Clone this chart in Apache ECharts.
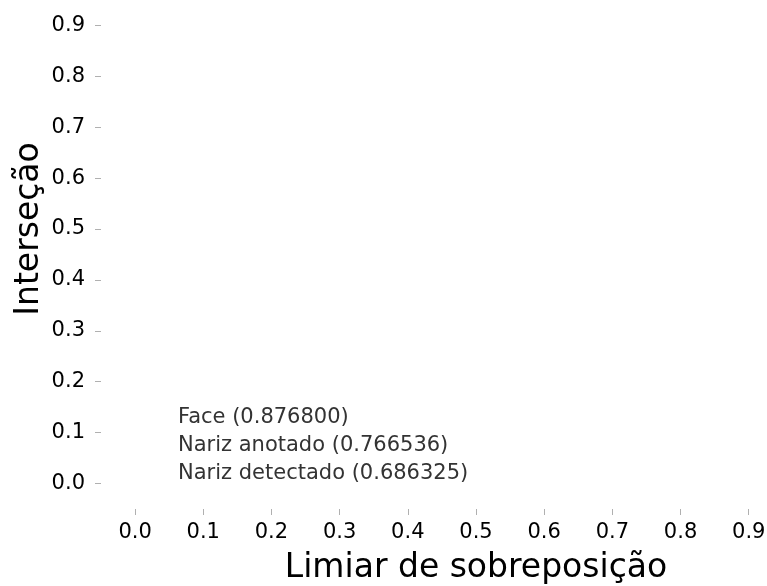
<!DOCTYPE html>
<html>
<head>
<meta charset="utf-8">
<script src="https://cdn.jsdelivr.net/npm/echarts@6/dist/echarts.min.js"></script>
<style>
  html, body { margin: 0; padding: 0; background: #ffffff; }
  #chart { width: 767px; height: 586px; }
</style>
</head>
<body>
<div id="chart"></div>
<script>
// Curves of intersection versus overlap threshold, one per detector
var seriesNames = ['Face', 'Nariz anotado', 'Nariz detectado'];
var seriesScores = [0.876800, 0.766536, 0.686325];
var faceValues = [];
var narizAnotadoValues = [];
var narizDetectadoValues = [];
var xTicks = [0, 0.1, 0.2, 0.3, 0.4, 0.5, 0.6, 0.7, 0.8, 0.9];
var yTicks = [0, 0.1, 0.2, 0.3, 0.4, 0.5, 0.6, 0.7, 0.8, 0.9];
var axisMin = -0.05;
var axisMax = 1.05;

var seriesData = [faceValues, narizAnotadoValues, narizDetectadoValues];
var font = 'DejaVu Sans';

var chart = echarts.init(document.getElementById('chart'), null, { renderer: 'canvas' });

var series = seriesNames.map(function (n, i) {
  return {
    type: 'line',
    name: n + ' (' + seriesScores[i].toFixed(6) + ')',
    data: seriesData[i],
    showSymbol: false,
    lineStyle: { width: 2 }
  };
});

function axisCommon(name) {
  return {
    type: 'value',
    min: axisMin,
    max: axisMax,
    name: name,
    nameLocation: 'middle',
    nameMoveOverlap: false,
    nameTextStyle: { fontFamily: font, fontSize: 33, color: '#000' },
    axisLine: { show: false, onZero: false },
    splitLine: { show: false },
    axisTick: { show: true, length: 6, lineStyle: { color: '#b0b0b0', width: 1 } },
    axisLabel: {
      fontFamily: font, fontSize: 21, color: '#000',
      formatter: function (v) { return v.toFixed(1); }
    }
  };
}

var xAxis = axisCommon('Limiar de sobreposição');
xAxis.nameGap = 43;
xAxis.axisTick.customValues = xTicks;
xAxis.axisLabel.customValues = xTicks;
xAxis.axisLabel.margin = 13;

var yAxis = axisCommon('Interseção');
yAxis.nameGap = 55;
yAxis.nameRotate = 90;
yAxis.axisTick.customValues = yTicks;
yAxis.axisLabel.customValues = yTicks;
yAxis.axisLabel.margin = 16;

chart.setOption({
  animation: false,
  backgroundColor: '#ffffff',
  color: ['#4c72b0', '#55a868', '#c44e52'],
  grid: {
    left: 101,
    top: -51,
    width: 750,
    height: 560,
    containLabel: false,
    outerBoundsMode: 'none'
  },
  legend: {
    orient: 'vertical',
    left: 138,
    top: 402,
    itemWidth: 30,
    itemHeight: 20,
    itemGap: 7,
    icon: 'rect',
    itemStyle: { opacity: 0 },
    lineStyle: { opacity: 0 },
    textStyle: { fontFamily: font, fontSize: 21, color: '#333333' },
    selectedMode: false
  },
  xAxis: xAxis,
  yAxis: yAxis,
  series: series
});
</script>
</body>
</html>
